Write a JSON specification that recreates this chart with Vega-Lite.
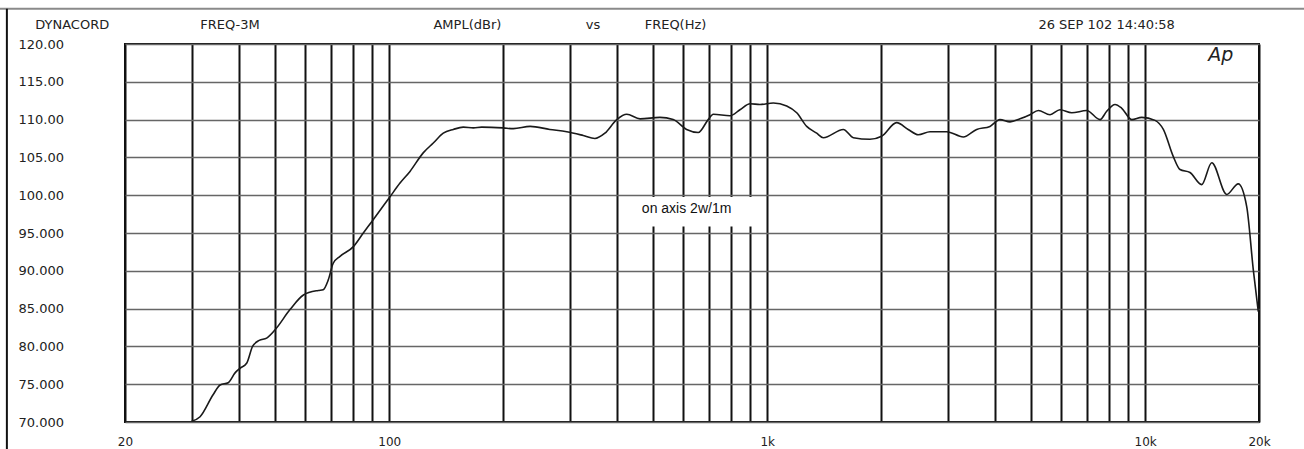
{
  "$schema": "https://vega.github.io/schema/vega-lite/v6.json",
  "width": 1134,
  "height": 378,
  "autosize": {"type": "none"},
  "padding": {"left": 125, "top": 44, "right": 45, "bottom": 27},
  "background": "white",
  "config": {
    "view": {"stroke": "#111", "strokeWidth": 2},
    "font": "DejaVu Sans"
  },
  "datasets": {
    "curve": [
      {"f": 30, "db": 70.1}, {"f": 31.6, "db": 70.7}, {"f": 34.2, "db": 73.6}, {"f": 35.7, "db": 74.9},
      {"f": 37.5, "db": 75.2}, {"f": 39.1, "db": 76.5}, {"f": 40.3, "db": 77.1}, {"f": 42, "db": 77.8},
      {"f": 43.5, "db": 80.0}, {"f": 45.3, "db": 80.8}, {"f": 47.4, "db": 81.1}, {"f": 49.9, "db": 82.2},
      {"f": 54.7, "db": 84.9}, {"f": 59.3, "db": 86.8}, {"f": 64.9, "db": 87.4}, {"f": 66.9, "db": 87.5},
      {"f": 69, "db": 88.8}, {"f": 71.1, "db": 91.0}, {"f": 74.1, "db": 91.9}, {"f": 80.4, "db": 93.2},
      {"f": 85.4, "db": 95.0}, {"f": 89.9, "db": 96.5}, {"f": 100.5, "db": 99.8}, {"f": 106.8, "db": 101.6},
      {"f": 113.5, "db": 103.15}, {"f": 123, "db": 105.6}, {"f": 130.8, "db": 106.9}, {"f": 139, "db": 108.2},
      {"f": 147.8, "db": 108.7}, {"f": 157, "db": 109.0}, {"f": 167, "db": 108.9}, {"f": 175.7, "db": 109.0},
      {"f": 200, "db": 108.9}, {"f": 213, "db": 108.8}, {"f": 236, "db": 109.1}, {"f": 266, "db": 108.7},
      {"f": 295, "db": 108.4}, {"f": 326, "db": 107.9}, {"f": 350, "db": 107.5}, {"f": 372, "db": 108.2},
      {"f": 400, "db": 110.0}, {"f": 425, "db": 110.7}, {"f": 461, "db": 110.1}, {"f": 520, "db": 110.3},
      {"f": 564, "db": 110.0}, {"f": 612, "db": 108.7}, {"f": 657, "db": 108.3}, {"f": 698, "db": 110.0},
      {"f": 720, "db": 110.7}, {"f": 797, "db": 110.5}, {"f": 847, "db": 111.3}, {"f": 901, "db": 112.1},
      {"f": 957, "db": 112.0}, {"f": 1038, "db": 112.2}, {"f": 1126, "db": 111.8}, {"f": 1197, "db": 110.9},
      {"f": 1272, "db": 109.1}, {"f": 1352, "db": 108.2}, {"f": 1407, "db": 107.6}, {"f": 1590, "db": 108.7},
      {"f": 1690, "db": 107.6}, {"f": 1870, "db": 107.4}, {"f": 2008, "db": 107.8}, {"f": 2200, "db": 109.6},
      {"f": 2360, "db": 108.7}, {"f": 2510, "db": 108.0}, {"f": 2696, "db": 108.4}, {"f": 2984, "db": 108.4},
      {"f": 3302, "db": 107.7}, {"f": 3582, "db": 108.7}, {"f": 3884, "db": 109.1}, {"f": 4128, "db": 110.0},
      {"f": 4389, "db": 109.7}, {"f": 4664, "db": 110.1}, {"f": 4956, "db": 110.65}, {"f": 5215, "db": 111.2},
      {"f": 5600, "db": 110.65}, {"f": 5950, "db": 111.3}, {"f": 6391, "db": 110.9}, {"f": 7000, "db": 111.2},
      {"f": 7594, "db": 110.0}, {"f": 7909, "db": 111.1}, {"f": 8320, "db": 112.0}, {"f": 8668, "db": 111.5},
      {"f": 9210, "db": 110.0}, {"f": 9790, "db": 110.3}, {"f": 10618, "db": 109.9}, {"f": 11168, "db": 108.7},
      {"f": 11868, "db": 105.1}, {"f": 12360, "db": 103.4}, {"f": 13137, "db": 103.0}, {"f": 14100, "db": 101.4},
      {"f": 14998, "db": 104.3}, {"f": 16429, "db": 100.1}, {"f": 17625, "db": 101.5}, {"f": 18557, "db": 98.5},
      {"f": 19321, "db": 90.1}, {"f": 19913, "db": 84.6}
    ],
    "header": [
      {"f": 14.5, "v": 122.55, "label": "DYNACORD"},
      {"f": 37.9, "v": 122.55, "label": "FREQ-3M"},
      {"f": 161, "v": 122.55, "label": "AMPL(dBr)"},
      {"f": 346, "v": 122.55, "label": "vs"},
      {"f": 572, "v": 122.55, "label": "FREQ(Hz)"},
      {"f": 7906, "v": 122.55, "label": "26 SEP 102 14:40:58"}
    ],
    "box": [{"fa": 409, "fb": 931, "va": 99.75, "vb": 95.85}],
    "note": [{"f": 612, "v": 98.2, "label": "on axis 2w/1m"}],
    "logo": [{"f": 15854, "v": 118.6, "label": "Ap"}],
    "frame": [
      {"fa": 9.34, "fb": 30000, "va": 124.67, "vb": 124.67, "c": "top"},
      {"fa": 9.74, "fb": 9.74, "va": 124.67, "vb": 66.4, "c": "left"}
    ]
  },
  "layer": [
    {
      "data": {"name": "curve"},
      "mark": {"type": "line", "color": "#1a1a1a", "strokeWidth": 1.6, "interpolate": "monotone"},
      "encoding": {
        "x": {
          "field": "f", "type": "quantitative",
          "scale": {"type": "log", "domain": [20, 20000], "nice": false},
          "axis": {
            "title": null,
            "values": [20, 30, 40, 50, 60, 70, 80, 90, 100, 200, 300, 400, 500, 600, 700, 800, 900, 1000, 2000, 3000, 4000, 5000, 6000, 7000, 8000, 9000, 10000, 20000],
            "tickCount": 60,
            "labelExpr": "datum.value == 20 ? '20' : datum.value == 100 ? '100' : datum.value == 1000 ? '1k' : datum.value == 10000 ? '10k' : datum.value == 20000 ? '20k' : ''",
            "grid": true, "gridColor": "#111", "gridWidth": 2, "gridOpacity": 1,
            "domain": false, "ticks": false, "tickSize": 0,
            "labelPadding": 14, "labelFont": "DejaVu Sans", "labelFontSize": 12, "labelColor": "#222",
            "labelOverlap": false, "labelFlush": false
          }
        },
        "y": {
          "field": "db", "type": "quantitative",
          "scale": {"domain": [70, 120], "nice": false, "zero": false},
          "axis": {
            "title": null,
            "values": [70, 75, 80, 85, 90, 95, 100, 105, 110, 115, 120],
            "tickCount": 30,
            "labelExpr": "datum.value >= 100 ? format(datum.value, '.2f') : format(datum.value, '.3f')",
            "grid": true, "gridColor": "#666", "gridWidth": 1.5, "gridOpacity": 1,
            "domain": false, "ticks": false, "tickSize": 0,
            "labelAlign": "left", "labelBaseline": "middle", "labelPadding": 107,
            "labelFont": "DejaVu Sans", "labelFontSize": 13, "labelColor": "#222",
            "labelOverlap": false, "labelFlush": false, "labelBound": false
          }
        }
      }
    },
    {
      "data": {"name": "box"},
      "mark": {"type": "rect", "color": "white"},
      "encoding": {
        "x": {"field": "fa", "type": "quantitative"},
        "x2": {"field": "fb"},
        "y": {"field": "va", "type": "quantitative"},
        "y2": {"field": "vb"}
      }
    },
    {
      "data": {"name": "header"},
      "mark": {"type": "text", "font": "DejaVu Sans", "fontSize": 13, "color": "#222", "align": "center", "baseline": "middle", "clip": false},
      "encoding": {
        "x": {"field": "f", "type": "quantitative"},
        "y": {"field": "v", "type": "quantitative"},
        "text": {"field": "label"}
      }
    },
    {
      "data": {"name": "note"},
      "mark": {"type": "text", "font": "Liberation Sans", "fontSize": 14, "color": "#111", "align": "center", "baseline": "middle"},
      "encoding": {
        "x": {"field": "f", "type": "quantitative"},
        "y": {"field": "v", "type": "quantitative"},
        "text": {"field": "label"}
      }
    },
    {
      "data": {"name": "logo"},
      "mark": {"type": "text", "font": "DejaVu Sans", "fontSize": 19, "fontStyle": "italic", "fontWeight": "normal", "color": "#222", "align": "center", "baseline": "middle"},
      "encoding": {
        "x": {"field": "f", "type": "quantitative"},
        "y": {"field": "v", "type": "quantitative"},
        "text": {"field": "label"}
      }
    },
    {
      "data": {"name": "frame"},
      "mark": {"type": "rule", "clip": false, "strokeWidth": 2},
      "encoding": {
        "x": {"field": "fa", "type": "quantitative"},
        "x2": {"field": "fb"},
        "y": {"field": "va", "type": "quantitative"},
        "y2": {"field": "vb"},
        "color": {"field": "c", "type": "nominal", "scale": {"domain": ["top", "left"], "range": ["#8a8a8a", "#111"]}, "legend": null}
      }
    }
  ]
}
